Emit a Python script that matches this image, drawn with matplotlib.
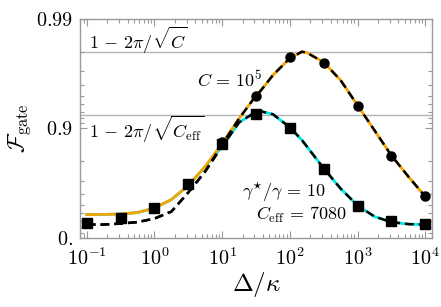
import numpy as np
import matplotlib
matplotlib.use("Agg")
import matplotlib.pyplot as plt
from matplotlib.ticker import FixedLocator, FixedFormatter, LogLocator, NullFormatter

plt.rcParams['mathtext.fontset'] = 'cm'
plt.rcParams['font.family'] = 'serif'
plt.rcParams['font.serif'] = ['cmr10', 'DejaVu Serif']
plt.rcParams['axes.formatter.use_mathtext'] = True

# Curve sample positions (Delta/kappa)
x_curve = [0.1, 0.178, 0.316, 0.562, 1.0, 1.78, 3.16, 5.62, 10.0, 17.8, 31.6, 37.2,
           56.2, 100.0, 151.0, 178.0, 316.0, 562.0, 1000.0, 1780.0, 3160.0, 5620.0, 10000.0]
# numerical, C = 1e5 (orange)
F_orange = [0.385, 0.387, 0.392, 0.411, 0.464, 0.552, 0.667, 0.777, 0.863, 0.919, 0.950, 0.955,
            0.9675, 0.9773, 0.9802, 0.9798, 0.9753, 0.9639, 0.9387, 0.896, 0.8235, 0.7248, 0.580]
# analytic, C = 1e5 (black dashed)
F_dash_C = [0.240, 0.241, 0.256, 0.279, 0.331, 0.423, 0.614, 0.7525, 0.860, 0.919, 0.950, 0.955,
            0.9675, 0.9773, 0.9802, 0.9798, 0.9753, 0.9639, 0.9387, 0.896, 0.8235, 0.7248, 0.580]
# numerical, with dephasing (cyan)
F_cyan = [0.385, 0.387, 0.392, 0.411, 0.464, 0.552, 0.667, 0.777, 0.854, 0.912, 0.9297, 0.9304,
          0.9259, 0.9024, 0.872, 0.854, 0.768, 0.645, 0.492, 0.359, 0.279, 0.248, 0.240]
# analytic, with dephasing (black dashed)
F_dash_eff = [0.240, 0.241, 0.256, 0.279, 0.331, 0.423, 0.614, 0.7525, 0.854, 0.912, 0.9297, 0.9304,
              0.9259, 0.9024, 0.872, 0.854, 0.768, 0.645, 0.492, 0.359, 0.279, 0.248, 0.240]

# markers
x_sq = [0.1, 0.316, 1.0, 3.16, 10.0, 31.6, 100.0, 316.0, 1000.0, 3160.0, 10000.0]
F_sq = [0.267, 0.341, 0.467, 0.674, 0.860, 0.926, 0.902, 0.763, 0.492, 0.292, 0.245]
x_circ = [10.0, 31.6, 100.0, 316.0, 1000.0, 3160.0, 10000.0]
F_circ = [0.867, 0.950, 0.978, 0.975, 0.938, 0.823, 0.582]

F_limit_C = 0.9801
F_limit_eff = 0.9253

y_ticks = [0.0, 0.9, 0.99]
y_ticklabels = [r'$0.$', r'$0.9$', r'$0.99$']
x_ticks = [0.1, 1, 10, 100, 1000, 10000]
x_ticklabels = [r'$10^{-1}$', r'$10^{0}$', r'$10^{1}$', r'$10^{2}$', r'$10^{3}$', r'$10^{4}$']


def fwd(F):
    F = np.asarray(F, dtype=float)
    return -np.log10(np.clip(1 - F, 1e-12, None))


def inv(v):
    return 1 - 10 ** (-np.asarray(v, dtype=float))


fig = plt.figure(figsize=(4.41, 3.07), dpi=100)
ax = fig.add_axes([0.181, 0.226, 0.799, 0.711])
ax.set_xscale('log')
ax.set_yscale('function', functions=(fwd, inv))

gray = '#b4b4b4'
ax.axhline(F_limit_C, color=gray, lw=1.0, zorder=1)
ax.axhline(F_limit_eff, color=gray, lw=1.0, zorder=1)

ax.plot(x_curve, F_cyan, color='#00e5e5', lw=2.0, zorder=2)
ax.plot(x_curve, F_orange, color='#f5a300', lw=2.0, zorder=3)
ax.plot(x_curve, F_dash_eff, color='black', lw=1.8, ls=(0, (3.5, 2.0)), zorder=4)
ax.plot(x_curve, F_dash_C, color='black', lw=1.8, ls=(0, (3.5, 2.0)), zorder=4)
ax.plot(x_sq, F_sq, 's', color='black', ms=6.5, zorder=5)
ax.plot(x_circ, F_circ, 'o', color='black', ms=6.5, zorder=5)

ax.set_xlim(10 ** -1.103, 10 ** 4.103)
ax.set_ylim(0.0, 0.99)

ax.xaxis.set_major_locator(FixedLocator(x_ticks))
ax.xaxis.set_major_formatter(FixedFormatter(x_ticklabels))
ax.xaxis.set_minor_locator(LogLocator(base=10, subs=np.arange(2, 10), numticks=20))
ax.xaxis.set_minor_formatter(NullFormatter())
ax.yaxis.set_major_locator(FixedLocator(y_ticks))
ax.yaxis.set_major_formatter(FixedFormatter(y_ticklabels))
ax.yaxis.set_minor_locator(FixedLocator([0.1, 0.2, 0.3, 0.4, 0.5, 0.6, 0.7, 0.8,
                                         0.91, 0.92, 0.93, 0.94, 0.95, 0.96, 0.97, 0.98]))
ax.yaxis.set_minor_formatter(NullFormatter())

spine_c = '#999999'
for s in ax.spines.values():
    s.set_color(spine_c)
    s.set_linewidth(1.0)
ax.tick_params(which='both', direction='in', top=True, right=True, color=spine_c,
               labelsize=14.5)
ax.tick_params(axis='x', which='major', pad=7)
ax.tick_params(axis='y', which='major', pad=5)
ax.tick_params(which='major', length=5, width=0.8)
ax.tick_params(which='minor', length=3, width=0.8)

ax.set_xlabel(r'$\Delta/\kappa$', fontsize=18, labelpad=1)
ax.set_ylabel(r'$\mathcal{F}_{\rm gate}$', fontsize=17, labelpad=2)

ax.text(0.025, 0.902, r'$1\,-\,2\pi/\sqrt{C}$', transform=ax.transAxes, fontsize=13,
        ha='left', va='center')
ax.text(0.025, 0.497, r'$1\,-\,2\pi/\sqrt{C_{\rm eff}}$', transform=ax.transAxes, fontsize=13,
        ha='left', va='center')
ax.text(0.332, 0.723, r'$C\,=\,10^5$', transform=ax.transAxes, fontsize=13,
        ha='left', va='center')
ax.text(0.699, 0.21, r'$\gamma^{\star}/\gamma\,=\,10$', transform=ax.transAxes, fontsize=13,
        ha='right', va='center')
ax.text(0.756, 0.104, r'$C_{\rm eff}\,=\,7080$', transform=ax.transAxes, fontsize=13,
        ha='right', va='center')

fig.savefig('out.png', dpi=100)
